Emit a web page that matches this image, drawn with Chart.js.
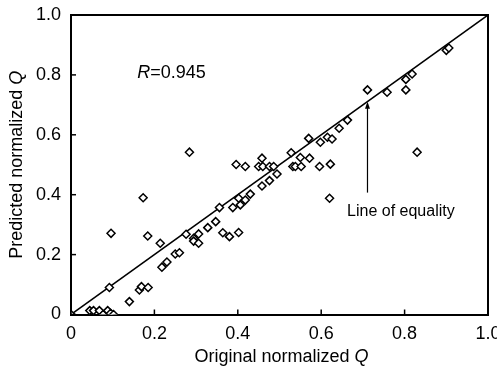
<!DOCTYPE html>
<html>
<head>
<meta charset="utf-8">
<script src="https://cdn.jsdelivr.net/npm/chart.js@4.4.1/dist/chart.umd.min.js"></script>
<style>
  html, body { margin: 0; padding: 0; background: #fff; }
</style>
</head>
<body>
<canvas id="chart" width="497" height="371"></canvas>
<script>
// values
const originalQ = [
  0, 0.045, 0.054, 0.068, 0.077, 0.088, 0.095, 0.102, 0.092, 0.096,
  0.14, 0.164, 0.169, 0.185, 0.184, 0.173, 0.214, 0.218, 0.23, 0.25,
  0.26, 0.276, 0.284, 0.294, 0.306, 0.294, 0.306, 0.328, 0.347, 0.356,
  0.364, 0.38, 0.402, 0.388, 0.406, 0.402, 0.418, 0.43, 0.396, 0.418,
  0.45, 0.458, 0.46, 0.476, 0.486, 0.458, 0.476, 0.494, 0.528, 0.532,
  0.538, 0.552, 0.55, 0.572, 0.596, 0.622, 0.57, 0.598, 0.615, 0.626,
  0.643, 0.663, 0.62, 0.711, 0.758, 0.803, 0.818, 0.803, 0.83, 0.9, 0.906
];
const predictedQ = [
  0, 0.013, 0.013, 0.013, 0.0, 0.013, 0.004, 0.0, 0.09, 0.271,
  0.043, 0.082, 0.093, 0.09, 0.262, 0.39, 0.238, 0.158, 0.175, 0.202,
  0.206, 0.268, 0.542, 0.254, 0.269, 0.245, 0.238, 0.29, 0.31, 0.357,
  0.273, 0.26, 0.274, 0.357, 0.366, 0.388, 0.382, 0.402, 0.501, 0.494,
  0.494, 0.522, 0.494, 0.494, 0.494, 0.429, 0.447, 0.469, 0.54, 0.494,
  0.494, 0.494, 0.524, 0.522, 0.494, 0.502, 0.588, 0.575, 0.592, 0.586,
  0.622, 0.649, 0.388, 0.75, 0.742, 0.785, 0.803, 0.75, 0.542, 0.882, 0.89
];
const tickValues = [0, 0.2, 0.4, 0.6, 0.8, 1.0];
const equalityX = [0, 1];
const equalityY = [0, 1];
const rLabel = ["R", "=0.945"];
const lineLabel = "Line of equality";
const arrowX = 0.711;
const arrowFromY = 0.407;
const arrowToY = 0.71;

const FONT = "Liberation Sans, Arial, sans-serif";
const FS = 18;

// draws text made of [normal, italic, ...] pieces
function drawParts(ctx, parts, x, y, align, size) {
  size = size || FS;
  let widths = parts.map(p => {
    ctx.font = (p.italic ? "italic " : "") + size + "px " + FONT;
    return ctx.measureText(p.t).width;
  });
  let total = widths.reduce((a, b) => a + b, 0);
  let cx = align === "center" ? x - total / 2 : x;
  ctx.textAlign = "left";
  parts.forEach((p, i) => {
    ctx.font = (p.italic ? "italic " : "") + size + "px " + FONT;
    ctx.fillText(p.t, cx, y);
    cx += widths[i];
  });
}

const extras = {
  id: "extras",
  afterDraw(chart) {
    const ctx = chart.ctx;
    const xs = chart.scales.x, ys = chart.scales.y;
    const a = chart.chartArea;
    ctx.save();
    ctx.strokeStyle = "#000";
    ctx.fillStyle = "#000";

    // box top + right
    ctx.lineWidth = 2;
    ctx.beginPath();
    ctx.moveTo(a.left, a.top);
    ctx.lineTo(a.right, a.top);
    ctx.lineTo(a.right, a.bottom);
    ctx.stroke();

    // inside ticks
    ctx.lineWidth = 1.5;
    tickValues.forEach(v => {
      let px = xs.getPixelForValue(v);
      ctx.beginPath();
      ctx.moveTo(px, a.bottom);
      ctx.lineTo(px, a.bottom - 5);
      ctx.stroke();
      let py = ys.getPixelForValue(v);
      ctx.beginPath();
      ctx.moveTo(a.left, py);
      ctx.lineTo(a.left + 5, py);
      ctx.stroke();
    });

    // arrow
    let ax = xs.getPixelForValue(arrowX);
    let ay1 = ys.getPixelForValue(arrowFromY);
    let ay2 = ys.getPixelForValue(arrowToY);
    ctx.lineWidth = 1.2;
    ctx.beginPath();
    ctx.moveTo(ax, ay1);
    ctx.lineTo(ax, ay2 + 2);
    ctx.stroke();
    ctx.beginPath();
    ctx.moveTo(ax, ay2);
    ctx.lineTo(ax - 2.5, ay2 + 7);
    ctx.lineTo(ax + 2.5, ay2 + 7);
    ctx.closePath();
    ctx.fill();

    ctx.textBaseline = "middle";
    drawParts(ctx, [{t: rLabel[0], italic: true}, {t: rLabel[1]}],
      xs.getPixelForValue(0.159), ys.getPixelForValue(0.806), "left");
    drawParts(ctx, [{t: lineLabel}],
      xs.getPixelForValue(0.662), ys.getPixelForValue(0.342), "left", 16);

    // axis titles
    drawParts(ctx, [{t: "Original normalized "}, {t: "Q", italic: true}],
      (a.left + a.right) / 2 + 2, 357, "center");
    ctx.translate(17, (a.top + a.bottom) / 2);
    ctx.rotate(-Math.PI / 2);
    drawParts(ctx, [{t: "Predicted normalized "}, {t: "Q", italic: true}],
      0, 0, "center");
    ctx.restore();
  }
};

const fmt = v => v === 0 ? "0" : v.toFixed(1);

new Chart(document.getElementById("chart"), {
  type: "scatter",
  data: {
    datasets: [
      {
        type: "line",
        data: equalityX.map((x, i) => ({x: x, y: equalityY[i]})),
        borderColor: "#000",
        borderWidth: 1.5,
        pointRadius: 0,
        order: 2
      },
      {
        data: originalQ.map((x, i) => ({x: x, y: predictedQ[i]})),
        pointStyle: "rectRot",
        pointRadius: 4,
        borderColor: "#000",
        backgroundColor: "#fff",
        borderWidth: 1.5,
        order: 1
      }
    ]
  },
  options: {
    responsive: false,
    animation: false,
    layout: { padding: { top: 15, right: 9, left: 0, bottom: 0 } },
    plugins: { legend: { display: false }, tooltip: { enabled: false } },
    scales: {
      x: {
        type: "linear", min: 0, max: 1,
        afterBuildTicks: s => { s.ticks = tickValues.map(v => ({value: v})); },
        afterFit: s => { s.height = 56.5; s.paddingLeft = 0; s.paddingRight = 0; },
        grid: { display: false, drawTicks: false },
        border: { display: true, color: "#000", width: 2 },
        ticks: { color: "#000", padding: 9, font: { family: FONT, size: FS }, callback: fmt, maxRotation: 0 }
      },
      y: {
        type: "linear", min: 0, max: 1,
        afterBuildTicks: s => { s.ticks = tickValues.map(v => ({value: v})); },
        afterFit: s => { s.width = 71; s.paddingTop = 0; s.paddingBottom = 0; },
        grid: { display: false, drawTicks: false },
        border: { display: true, color: "#000", width: 2 },
        ticks: { color: "#000", padding: 10, font: { family: FONT, size: FS }, callback: fmt }
      }
    }
  },
  plugins: [extras]
});
</script>
</body>
</html>
